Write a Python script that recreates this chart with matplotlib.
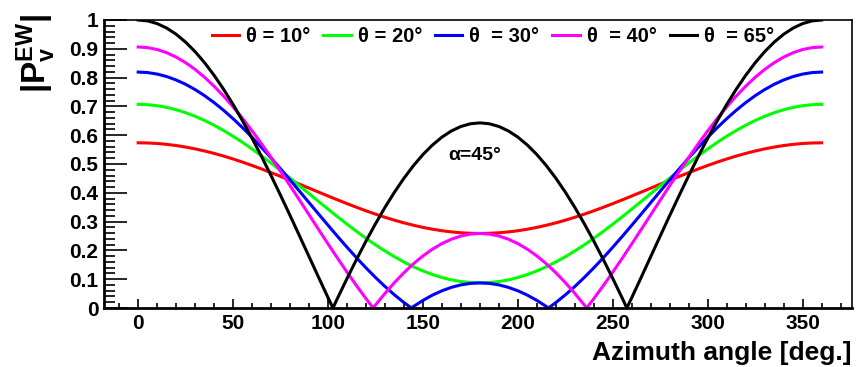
import matplotlib
matplotlib.use("Agg")
import matplotlib.pyplot as plt
from matplotlib.ticker import MultipleLocator

plt.rcParams['font.family'] = ['Liberation Sans', 'DejaVu Sans']
plt.rcParams['font.weight'] = 'bold'
plt.rcParams['mathtext.fontset'] = 'custom'
plt.rcParams['mathtext.rm'] = 'Liberation Sans:bold'
plt.rcParams['mathtext.bf'] = 'Liberation Sans:bold'
plt.rcParams['mathtext.it'] = 'Liberation Sans:bold'

# azimuth grid (deg)
azimuth = list(range(0, 365, 5))

p_theta10 = [0.5736, 0.5730, 0.5712, 0.5682, 0.5641, 0.5588, 0.5525, 0.5451, 0.5368, 0.5275,
             0.5174, 0.5065, 0.4949, 0.4827, 0.4700, 0.4569, 0.4435, 0.4299, 0.4162, 0.4025,
             0.3889, 0.3755, 0.3624, 0.3497, 0.3375, 0.3259, 0.3150, 0.3049, 0.2956, 0.2873,
             0.2799, 0.2736, 0.2683, 0.2642, 0.2612, 0.2594, 0.2588,
             0.2594, 0.2612, 0.2642, 0.2683, 0.2736, 0.2799, 0.2873, 0.2956, 0.3049, 0.3150,
             0.3259, 0.3375, 0.3497, 0.3624, 0.3755, 0.3889, 0.4025, 0.4162, 0.4299, 0.4435,
             0.4569, 0.4700, 0.4827, 0.4949, 0.5065, 0.5174, 0.5275, 0.5368, 0.5451, 0.5525,
             0.5588, 0.5641, 0.5682, 0.5712, 0.5730, 0.5736]

p_theta20 = [0.7071, 0.7059, 0.7024, 0.6966, 0.6884, 0.6781, 0.6656, 0.6511, 0.6346, 0.6163,
             0.5964, 0.5749, 0.5521, 0.5281, 0.5032, 0.4774, 0.4510, 0.4242, 0.3971, 0.3701,
             0.3433, 0.3169, 0.2911, 0.2661, 0.2421, 0.2193, 0.1979, 0.1779, 0.1597, 0.1432,
             0.1287, 0.1162, 0.1058, 0.0977, 0.0919, 0.0883, 0.0872,
             0.0883, 0.0919, 0.0977, 0.1058, 0.1162, 0.1287, 0.1432, 0.1597, 0.1779, 0.1979,
             0.2193, 0.2421, 0.2661, 0.2911, 0.3169, 0.3433, 0.3701, 0.3971, 0.4242, 0.4510,
             0.4774, 0.5032, 0.5281, 0.5521, 0.5749, 0.5964, 0.6163, 0.6346, 0.6511, 0.6656,
             0.6781, 0.6884, 0.6966, 0.7024, 0.7059, 0.7071]

p_theta30 = [0.8192, 0.8174, 0.8123, 0.8037, 0.7918, 0.7767, 0.7584, 0.7372, 0.7131, 0.6864,
             0.6573, 0.6259, 0.5926, 0.5575, 0.5210, 0.4833, 0.4447, 0.4055, 0.3660, 0.3265,
             0.2873, 0.2487, 0.2110, 0.1745, 0.1394, 0.1061, 0.0747, 0.0456, 0.0189, 0.0052,
             0.0264, 0.0447, 0.0598, 0.0717, 0.0803, 0.0854, 0.0872,
             0.0854, 0.0803, 0.0717, 0.0598, 0.0447, 0.0264, 0.0052, 0.0189, 0.0456, 0.0747,
             0.1061, 0.1394, 0.1745, 0.2110, 0.2487, 0.2873, 0.3265, 0.3660, 0.4055, 0.4447,
             0.4833, 0.5210, 0.5575, 0.5926, 0.6259, 0.6573, 0.6864, 0.7131, 0.7372, 0.7584,
             0.7767, 0.7918, 0.8037, 0.8123, 0.8174, 0.8192]

p_theta40 = [0.9063, 0.9041, 0.8975, 0.8865, 0.8712, 0.8517, 0.8283, 0.8010, 0.7700, 0.7357,
             0.6982, 0.6579, 0.6150, 0.5700, 0.5230, 0.4745, 0.4249, 0.3745, 0.3238, 0.2730,
             0.2226, 0.1730, 0.1245, 0.0776, 0.0325, 0.0104, 0.0507, 0.0882, 0.1225, 0.1535,
             0.1808, 0.2042, 0.2237, 0.2390, 0.2500, 0.2566, 0.2588,
             0.2566, 0.2500, 0.2390, 0.2237, 0.2042, 0.1808, 0.1535, 0.1225, 0.0882, 0.0507,
             0.0104, 0.0325, 0.0776, 0.1245, 0.1730, 0.2226, 0.2730, 0.3238, 0.3745, 0.4249,
             0.4745, 0.5230, 0.5700, 0.6150, 0.6579, 0.6982, 0.7357, 0.7700, 0.8010, 0.8283,
             0.8517, 0.8712, 0.8865, 0.8975, 0.9041, 0.9063]

p_theta65 = [1.0000, 0.9969, 0.9875, 0.9720, 0.9505, 0.9231, 0.8900, 0.8515, 0.8078, 0.7594,
             0.7066, 0.6498, 0.5893, 0.5258, 0.4596, 0.3912, 0.3213, 0.2502, 0.1786, 0.1070,
             0.0360, 0.0340, 0.1023, 0.1685, 0.2321, 0.2925, 0.3494, 0.4022, 0.4506, 0.4943,
             0.5328, 0.5658, 0.5933, 0.6148, 0.6303, 0.6397, 0.6428,
             0.6397, 0.6303, 0.6148, 0.5933, 0.5658, 0.5328, 0.4943, 0.4506, 0.4022, 0.3494,
             0.2925, 0.2321, 0.1685, 0.1023, 0.0340, 0.0360, 0.1070, 0.1786, 0.2502, 0.3213,
             0.3912, 0.4596, 0.5258, 0.5893, 0.6498, 0.7066, 0.7594, 0.8078, 0.8515, 0.8900,
             0.9231, 0.9505, 0.9720, 0.9875, 0.9969, 1.0000]

# azimuths where the curves touch zero
zeros_theta10 = []
zeros_theta20 = []
zeros_theta30 = [143.9, 216.1]
zeros_theta40 = [123.8, 236.2]
zeros_theta65 = [102.6, 257.4]

labels = ["θ = 10°", "θ = 20°", "θ  = 30°", "θ  = 40°", "θ  = 65°"]
colors = ["#ff0000", "#00ff00", "#0000ff", "#ff00ff", "#000000"]
series = [p_theta10, p_theta20, p_theta30, p_theta40, p_theta65]
zeros = [zeros_theta10, zeros_theta20, zeros_theta30, zeros_theta40, zeros_theta65]

fig = plt.figure(figsize=(8.61, 3.67), dpi=100)
ax = fig.add_axes([104 / 861, 1 - 308 / 367, (852 - 104) / 861, (308 - 20) / 367])

for vals, zs, col, lab in zip(series, zeros, colors, labels):
    pts = sorted(list(zip(azimuth, vals)) + [(z, 0.0) for z in zs])
    xs = [p[0] for p in pts]
    ys = [p[1] for p in pts]
    ax.plot(xs, ys, color=col, lw=2.2, label=lab, solid_joinstyle='round')

ax.set_xlim(-18, 376)
ax.set_ylim(0, 1)

ax.xaxis.set_major_locator(MultipleLocator(50))
ax.xaxis.set_minor_locator(MultipleLocator(10))
ax.yaxis.set_major_locator(MultipleLocator(0.1))
ax.yaxis.set_minor_locator(MultipleLocator(0.02))

ax.tick_params(axis='x', which='major', direction='in', length=6.5, width=1.2,
               labelsize=15, pad=4, top=False)
ax.tick_params(axis='x', which='minor', direction='in', length=3.5, width=1.2, top=False)
ax.tick_params(axis='y', which='major', direction='in', length=16.5, width=1.2,
               labelsize=15, pad=4, right=False)
ax.tick_params(axis='y', which='minor', direction='in', length=8, width=1.2, right=False)

ax.set_yticks([i / 10 for i in range(11)])
ax.set_yticklabels(["0", "0.1", "0.2", "0.3", "0.4", "0.5", "0.6", "0.7", "0.8", "0.9", "1"])
for lab in ax.get_xticklabels() + ax.get_yticklabels():
    lab.set_fontweight('bold')

ax.spines['left'].set_linewidth(2.0)
ax.spines['bottom'].set_linewidth(2.0)
ax.spines['top'].set_linewidth(1.2)
ax.spines['right'].set_linewidth(1.2)

leg = ax.legend(ncol=5, loc='center', bbox_to_anchor=(0.52, 0.941), frameon=False,
                fontsize=14.5, handlelength=1.35, handletextpad=0.35, columnspacing=0.65,
                borderaxespad=0, borderpad=0)
for t in leg.get_texts():
    t.set_fontweight('bold')

ax.text(177, 0.53, "α=45°", ha='center', va='center', fontsize=14, fontweight='bold')

fig.text(852 / 861, 1 - 360 / 367, "Azimuth angle [deg.]", ha='right', va='baseline',
         fontsize=19, fontweight='bold')
fig.text(36 / 861, 1 - 14 / 367, r"$|\mathbf{P}_{\mathbf{v}}^{\mathbf{EW}}|$", rotation=90,
         ha='center', va='top', fontsize=24)

fig.savefig("out.png", dpi=100)
